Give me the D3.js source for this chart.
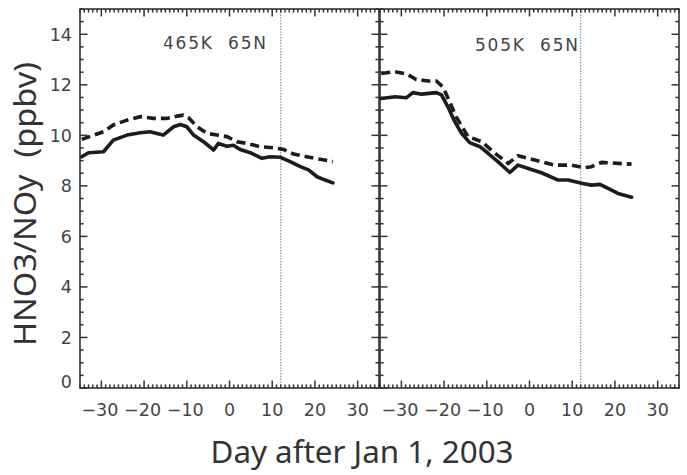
<!DOCTYPE html>
<html>
<head>
<meta charset="utf-8">
<script src="https://cdn.jsdelivr.net/npm/d3@7"></script>
<style>
  html, body { margin: 0; padding: 0; background: #fff; }
  svg { display: block; }
</style>
</head>
<body>
<svg id="chart" width="687" height="475"></svg>
<script>
// ---- data ----
const panelLabels = ["465K  65N", "505K  65N"];
const xTickValues = [-30, -20, -10, 0, 10, 20, 30];
const yTickValues = [0, 2, 4, 6, 8, 10, 12, 14];
const markerDay = 12;

const days465Solid = [-34.6,-33,-29.5,-27.2,-24,-20.9,-18.6,-17,-15.5,-13.1,-11.5,-10,-8.4,-6.1,-3.7,-2.6,-0.6,0.9,2.5,5.2,7.6,9.5,11.9,14.2,16.6,18.5,20.5,22.4,24.2];
const hno3_465Solid = [9.15,9.31,9.35,9.81,10.01,10.1,10.14,10.07,10.01,10.34,10.43,10.34,10.01,9.75,9.42,9.68,9.57,9.61,9.44,9.29,9.09,9.15,9.13,8.96,8.76,8.63,8.36,8.23,8.12];

const days465Dashed = [-34.6,-31.8,-29.5,-27.2,-24,-20.9,-17.8,-14.7,-12.3,-10.8,-9.6,-7.6,-5.3,-2.9,-0.6,1.7,4.1,7.2,10.3,12.7,15,18.1,21.2,24.2];
const hno3_465Dashed = [9.84,10.01,10.14,10.41,10.6,10.74,10.67,10.67,10.76,10.8,10.7,10.34,10.08,10.01,9.95,9.75,9.68,9.55,9.51,9.44,9.26,9.15,9.05,8.96];

const days505Solid = [-34.7,-31.5,-28.8,-27.3,-25.3,-21.8,-20.6,-19.1,-17.5,-15.9,-14,-11.6,-9.7,-7.4,-4.6,-2.7,-0.3,2.8,6.7,9,12.2,14.5,16.5,18.4,20.7,23.9];
const hno3_505Solid = [11.46,11.53,11.49,11.69,11.63,11.69,11.6,11.13,10.54,10.08,9.71,9.55,9.29,8.96,8.53,8.82,8.69,8.52,8.23,8.23,8.1,8.03,8.06,7.9,7.7,7.55];

const days505Dashed = [-34.7,-31.5,-28.8,-26.5,-23.7,-21.8,-20.2,-18.7,-17.2,-14.4,-11.2,-8.5,-5,-2.7,1.2,5.9,9.8,13,14.5,16.9,20.7,23.9];
const hno3_505Dashed = [12.45,12.52,12.43,12.21,12.15,12.15,11.9,11.33,10.74,9.95,9.75,9.35,8.89,9.19,9.02,8.82,8.82,8.72,8.76,8.93,8.89,8.86];

// ---- layout ----
const svg = d3.select("#chart");
const yTop = 9, yBottom = 388;
const panels = [
  { x0: 80, x1: 379, label: panelLabels[0], labelX: 163, labelY: 49,
    solid: [days465Solid, hno3_465Solid], dashed: [days465Dashed, hno3_465Dashed] },
  { x0: 380, x1: 679, label: panelLabels[1], labelX: 475, labelY: 51,
    solid: [days505Solid, hno3_505Solid], dashed: [days505Dashed, hno3_505Dashed] }
];

const y = d3.scaleLinear().domain([0, 15]).range([yBottom, yTop]);
const axisColor = "#333";
const textColor = "#444";
const tickFont = "DejaVu Sans, Liberation Sans, sans-serif";

const xMinor = d3.range(-35, 35.01, 1);
const yMinor = d3.range(0, 15.01, 0.5);

panels.forEach((p, i) => {
  const x = d3.scaleLinear().domain([-35, 35]).range([p.x0, p.x1]);
  const g = svg.append("g");

  // dotted marker line
  g.append("line")
    .attr("x1", x(markerDay)).attr("x2", x(markerDay))
    .attr("y1", y(15)).attr("y2", y(0))
    .attr("stroke", "#8a8a8a").attr("stroke-width", 1.2)
    .attr("stroke-dasharray", "1.4,1.4");

  const isMajorX = d => xTickValues.indexOf(d) >= 0;
  const isMajorY = d => yTickValues.indexOf(d) >= 0;
  // bottom & top ticks (inward)
  [[yBottom, -1], [yTop, 1]].forEach(([ty, dir]) => {
    g.append("g").selectAll("line").data(xMinor).join("line")
      .attr("x1", d => x(d)).attr("x2", d => x(d))
      .attr("y1", ty).attr("y2", d => ty + dir * (isMajorX(d) ? 7.5 : 3.6))
      .attr("stroke", axisColor).attr("stroke-width", 1.5);
  });
  // left & right ticks (inward)
  [[p.x0, 1], [p.x1, -1]].forEach(([tx, dir]) => {
    g.append("g").selectAll("line").data(yMinor).join("line")
      .attr("y1", d => y(d)).attr("y2", d => y(d))
      .attr("x1", tx).attr("x2", d => tx + dir * (isMajorY(d) ? 7.5 : 3.6))
      .attr("stroke", axisColor).attr("stroke-width", 1.5);
  });

  // frame
  g.append("rect")
    .attr("x", p.x0).attr("y", yTop)
    .attr("width", p.x1 - p.x0).attr("height", yBottom - yTop)
    .attr("fill", "none").attr("stroke", axisColor).attr("stroke-width", 1.6);

  // x tick labels
  g.selectAll("text.xt").data(xTickValues).join("text")
    .attr("class", "xt")
    .attr("x", d => x(d) - (d < 0 ? 1.5 : 0)).attr("y", 416)
    .attr("text-anchor", "middle")
    .attr("font-family", tickFont).attr("font-size", 17.5)
    .attr("fill", textColor)
    .text(d => d < 0 ? "\u2212" + Math.abs(d) : String(d));

  // y tick labels (left panel only)
  if (i === 0) {
    g.selectAll("text.yt").data(yTickValues).join("text")
      .attr("class", "yt")
      .attr("x", 72).attr("y", d => Math.min(y(d), 382))
      .attr("dy", "0.36em")
      .attr("text-anchor", "end")
      .attr("font-family", tickFont).attr("font-size", 17.5)
      .attr("fill", textColor)
      .text(d => String(d));
  }

  // data lines
  const line = d3.line().x(d => x(d[0])).y(d => y(d[1]));
  const toPts = s => s[0].map((d, k) => [d, s[1][k]]);
  g.append("path").datum(toPts(p.solid))
    .attr("d", line).attr("fill", "none")
    .attr("stroke", "#1c1c1c").attr("stroke-width", 3.6)
    .attr("stroke-linejoin", "round").attr("stroke-linecap", "round");
  g.append("path").datum(toPts(p.dashed))
    .attr("d", line).attr("fill", "none")
    .attr("stroke", "#1c1c1c").attr("stroke-width", 3.6)
    .attr("stroke-dasharray", "9,5");

  // panel label
  g.append("text")
    .attr("x", p.labelX).attr("y", p.labelY)
    .attr("font-family", tickFont).attr("font-size", 17)
    .attr("fill", textColor)
    .attr("textLength", 103).attr("lengthAdjust", "spacing")
    .style("white-space", "pre")
    .text(p.label);
});

// axis titles
svg.append("text")
  .attr("x", 362).attr("y", 463)
  .attr("text-anchor", "middle")
  .attr("font-family", "Noto Sans, Open Sans, sans-serif").attr("font-size", 30)
  .attr("fill", "#333")
  .attr("textLength", 303).attr("lengthAdjust", "spacingAndGlyphs")
  .text("Day after Jan 1, 2003");

svg.append("text")
  .attr("transform", "translate(36,204) rotate(-90)")
  .attr("text-anchor", "middle")
  .attr("font-family", "Noto Sans, Open Sans, sans-serif").attr("font-size", 31)
  .attr("fill", "#333")
  .attr("textLength", 284).attr("lengthAdjust", "spacingAndGlyphs")
  .style("white-space", "pre")
  .text("HNO3/NOy  (ppbv)");
</script>
</body>
</html>
